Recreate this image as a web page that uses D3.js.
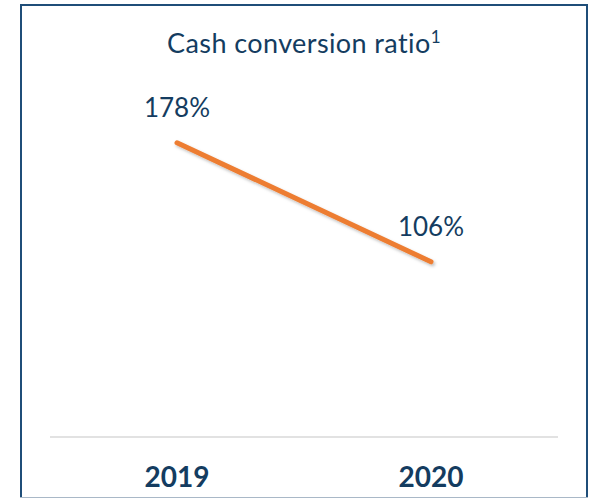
<!DOCTYPE html>
<html><head><meta charset="utf-8">
<script src="https://cdn.jsdelivr.net/npm/d3@7"></script>
<style>html,body{margin:0;padding:0;background:#fff;}svg{display:block;}</style>
</head><body>
<svg id="c" width="591" height="498"></svg>
<script>
const categories = ["2019", "2020"];
const values = [178, 106];
const valueLabels = ["178%", "106%"];
const title = "Cash conversion ratio";
const titleSup = "1";

const svg = d3.select("#c");
const navy = "#143c60";
const font = "Lato, 'Open Sans', sans-serif";

// frame (top, left, right navy; bottom light)
svg.append("path").attr("d", "M21,497.5V5H587V497.5")
  .attr("fill", "none").attr("stroke", "#1f4e79").attr("stroke-width", 2);
svg.append("line").attr("x1", 20).attr("x2", 588).attr("y1", 497.5).attr("y2", 497.5)
  .attr("stroke", "#a9b8c7").attr("stroke-width", 1);

const x = d3.scaleBand().domain(categories).range([50, 558]);
const y = d3.scaleLinear().domain([0, 200]).range([437, 106.4]);

// shadow filter
const defs = svg.append("defs");
const f = defs.append("filter").attr("id", "sh").attr("x", "-20%").attr("y", "-20%").attr("width", "140%").attr("height", "140%");
f.append("feDropShadow").attr("dx", 1.5).attr("dy", 2).attr("stdDeviation", 1.5).attr("flood-color", "#000").attr("flood-opacity", 0.25);

// baseline axis
const axis = d3.axisBottom(x).tickSize(0).tickPadding(0).tickFormat(() => "");
const ag = svg.append("g").attr("transform", `translate(0,${y(0)})`).call(axis);
ag.select(".domain").attr("stroke", "#d9d9d9").attr("stroke-width", 1.5).attr("d", `M50,0H558`);

// category labels
svg.append("g").selectAll("text").data(categories).join("text")
  .attr("x", d => x(d) + x.bandwidth() / 2).attr("y", 487)
  .attr("text-anchor", "middle").attr("font-family", font).attr("font-weight", "bold")
  .attr("font-size", 28).attr("fill", navy).text(d => d);

// line
const pts = categories.map((c, i) => [x(c) + x.bandwidth() / 2, y(values[i])]);
svg.append("path").attr("d", d3.line()(pts)).attr("fill", "none")
  .attr("stroke", "#ed7d31").attr("stroke-width", 5).attr("stroke-linecap", "round")
  .attr("filter", "url(#sh)");

// value labels
svg.append("g").selectAll("text").data(pts).join("text")
  .attr("x", d => d[0]).attr("y", d => d[1] - 26)
  .attr("text-anchor", "middle").attr("font-family", font)
  .attr("font-size", 26).attr("fill", navy).text((d, i) => valueLabels[i]);

// title
const t = svg.append("text").attr("x", 304).attr("y", 53).attr("text-anchor", "middle")
  .attr("font-family", font).attr("font-size", 27).attr("letter-spacing", 0.4).attr("fill", navy);
t.append("tspan").text(title);
t.append("tspan").attr("font-size", 17).attr("dy", -10).text(titleSup);
</script>
</body></html>
